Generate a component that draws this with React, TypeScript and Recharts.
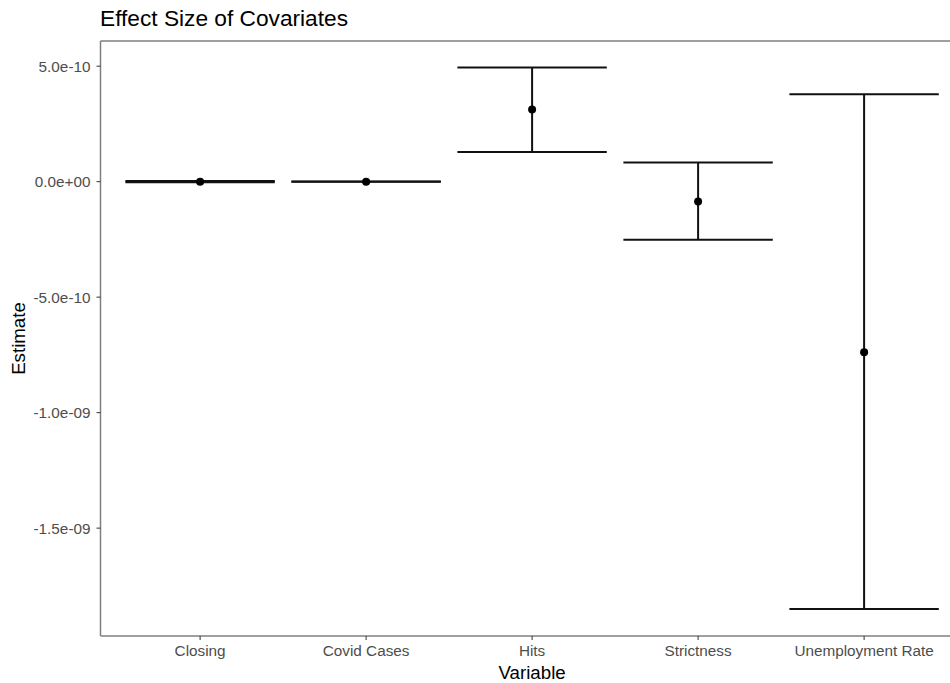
import React from 'react';
import { ComposedChart, XAxis, YAxis, Scatter, ReferenceLine } from 'recharts';

const categories = ['Closing', 'Covid Cases', 'Hits', 'Strictness', 'Unemployment Rate'];
const estimates = [0, 0, 3.12e-10, -0.86e-10, -7.38e-10];
const lowerCI = [-0.03e-10, -0.003e-10, 1.28e-10, -2.52e-10, -18.5e-10];
const upperCI = [0.03e-10, 0.003e-10, 4.94e-10, 0.83e-10, 3.78e-10];
const yTicks = [-1.5e-9, -1.0e-9, -5.0e-10, 0, 5.0e-10];
const yTickLabels = ['-1.5e-09', '-1.0e-09', '-5.0e-10', '0.0e+00', '5.0e-10'];
const yDomain = [-1.967e-9, 6.09e-10];
const xDomain = [0.4, 5.6];

const rows = categories.map((c, i) => ({ x: i + 1, name: c, est: estimates[i], lo: lowerCI[i], hi: upperCI[i] }));

const FONT = '"Liberation Sans", Arial, Helvetica, sans-serif';
const HALF = 0.45;

const YLabel = (props: any) => {
  const vb = props.viewBox || { x: 0, y: 41, width: 100, height: 595 };
  const cx = vb.x + 18.5;
  const cy = vb.y + vb.height / 2;
  return (
    <text x={cx} y={cy} transform={`rotate(-90, ${cx}, ${cy})`} textAnchor="middle" dominantBaseline="central"
      fontSize={18.7} fill="#000" fontFamily={FONT}>Estimate</text>
  );
};

export default function App() {
  return (
    <div style={{ position: 'absolute', left: 0, top: 0, width: 950, height: 683, overflow: 'hidden', background: '#fff', fontFamily: FONT }}>
      <div style={{ position: 'absolute', left: 100, top: 7, fontSize: 22.7, lineHeight: '22.5px', color: '#000', whiteSpace: 'nowrap' }}>
        Effect Size of Covariates
      </div>
      <ComposedChart width={974} height={683} data={rows} margin={{ top: 41, right: 10.3, bottom: 0, left: 0 }}>
        <XAxis dataKey="x" type="number" domain={xDomain} allowDataOverflow ticks={[1, 2, 3, 4, 5]}
          tickFormatter={(v: number) => categories[v - 1]} interval={0}
          height={47} tickSize={4} tickMargin={5}
          axisLine={{ stroke: '#7f7f7f', strokeWidth: 1.5 }} tickLine={{ stroke: '#333', strokeWidth: 1 }}
          tick={{ fill: '#4d4d4d', fontSize: 15.3, fontFamily: FONT }}
          label={{ value: 'Variable', position: 'insideBottom', offset: 4, fill: '#000', fontSize: 18.7, fontFamily: FONT }} />
        <YAxis type="number" domain={yDomain} allowDataOverflow ticks={yTicks} interval={0}
          tickFormatter={(v: number) => yTickLabels[yTicks.indexOf(v)] ?? ''}
          width={100.5} tickSize={4} tickMargin={6}
          axisLine={{ stroke: '#7f7f7f', strokeWidth: 1.5 }} tickLine={{ stroke: '#333', strokeWidth: 1 }}
          tick={{ fill: '#4d4d4d', fontSize: 15.3, fontFamily: FONT }}
          label={<YLabel />} />
        <ReferenceLine y={yDomain[1]} stroke="#7f7f7f" strokeWidth={1.5} ifOverflow="visible" />
        <ReferenceLine x={xDomain[1]} stroke="#7f7f7f" strokeWidth={1.5} ifOverflow="visible" />
        {rows.map((r) => (
          <ReferenceLine key={`v${r.x}`} segment={[{ x: r.x, y: r.lo }, { x: r.x, y: r.hi }]}
            stroke="#111" strokeWidth={2} ifOverflow="visible" />
        ))}
        {rows.map((r) => (
          <ReferenceLine key={`h${r.x}`} segment={[{ x: r.x - HALF, y: r.hi }, { x: r.x + HALF, y: r.hi }]}
            stroke="#111" strokeWidth={2} ifOverflow="visible" />
        ))}
        {rows.map((r) => (
          <ReferenceLine key={`l${r.x}`} segment={[{ x: r.x - HALF, y: r.lo }, { x: r.x + HALF, y: r.lo }]}
            stroke="#111" strokeWidth={2} ifOverflow="visible" />
        ))}
        <Scatter dataKey="est" isAnimationActive={false}
          shape={(p: any) => <circle cx={p.cx} cy={p.cy} r={4} fill="#000" />} />
      </ComposedChart>
    </div>
  );
}
